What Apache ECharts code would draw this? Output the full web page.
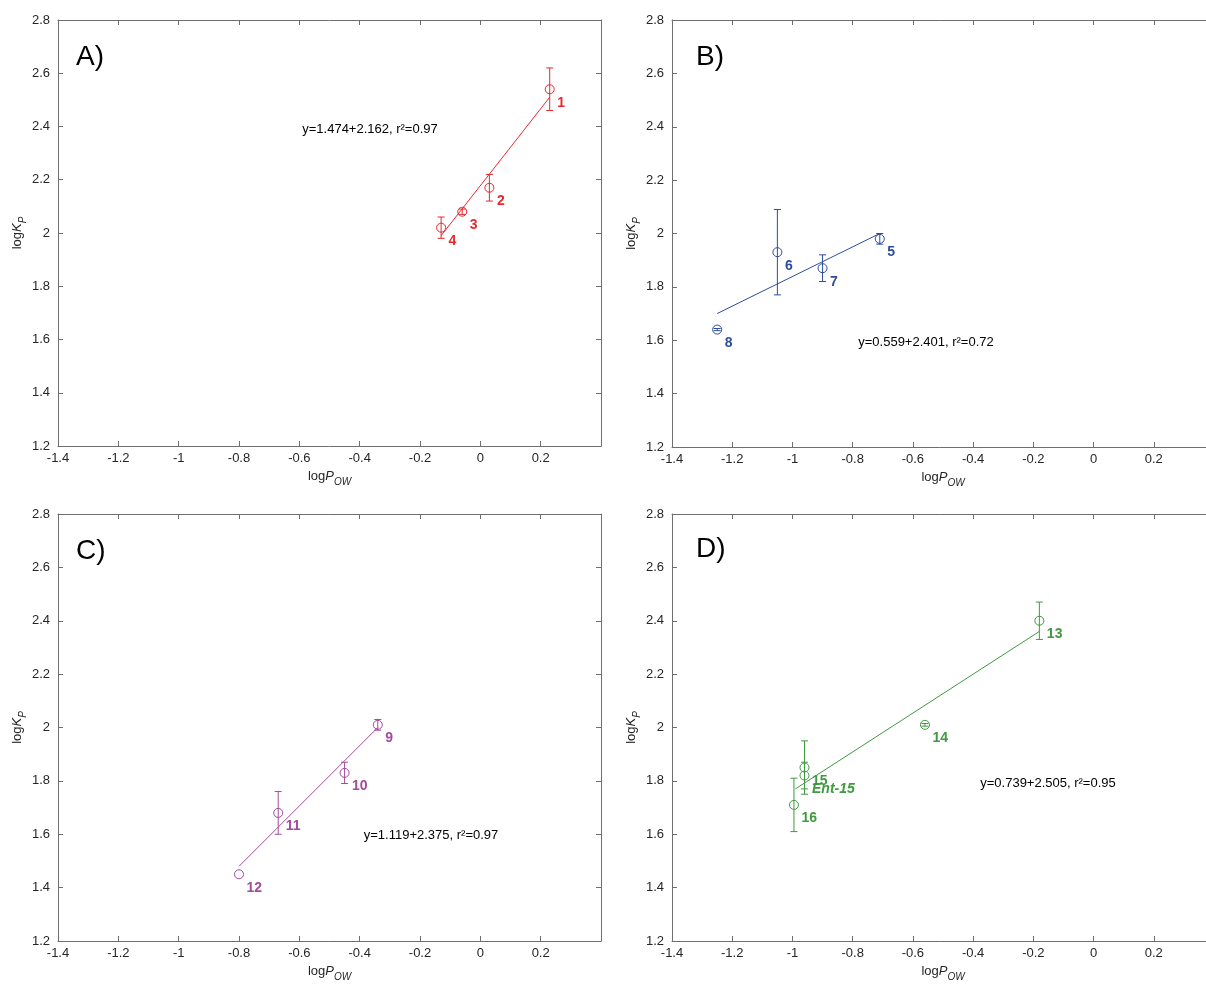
<!DOCTYPE html>
<html><head><meta charset="utf-8">
<script src="https://cdn.jsdelivr.net/npm/echarts@6/dist/echarts.min.js"></script>
<style>html,body{margin:0;padding:0;background:#fff}#c{width:1206px;height:987px}</style>
</head><body><div id="c"></div>
<script>
// ---- data ----
const panelTitles = ['A)', 'B)', 'C)', 'D)'];
const colors = ['#e62a2e', '#2c4e9c', '#a24b9c', '#3f9a3f'];

const aX = [0.23, 0.03, -0.06, -0.13];
const aY = [2.54, 2.17, 2.08, 2.02];
const aErr = [0.08, 0.05, 0.01, 0.04];
const aLab = ['1', '2', '3', '4'];
const aFit = [[-0.13, 1.99], [0.23, 2.51]];

const bX = [-0.71, -1.05, -0.90, -1.25];
const bY = [1.98, 1.93, 1.87, 1.64];
const bErr = [0.02, 0.16, 0.05, 0.004];
const bLab = ['5', '6', '7', '8'];
const bFit = [[-1.25, 1.70], [-0.71, 2.00]];

const cX = [-0.34, -0.45, -0.67, -0.80];
const cY = [2.01, 1.83, 1.68, 1.45];
const cErr = [0.02, 0.04, 0.08, 0];
const cLab = ['9', '10', '11', '12'];
const cFit = [[-0.80, 1.48], [-0.34, 2.00]];

const dX = [-0.18, -0.56, -0.96, -0.96, -0.995];
const dY = [2.40, 2.01, 1.85, 1.82, 1.71];
const dErr = [0.07, 0.005, 0.10, 0.05, 0.10];
const dLab = ['13', '14', '15', 'Ent-15', '16'];
const dFit = [[-0.99, 1.77], [-0.18, 2.36]];

const equations = [
  'y=1.474+2.162, r\u00B2=0.97',
  'y=0.559+2.401, r\u00B2=0.72',
  'y=1.119+2.375, r\u00B2=0.97',
  'y=0.739+2.505, r\u00B2=0.95'
];

const xMin = -1.4, xMax = 0.4, xStep = 0.2;
const yMin = 1.2, yMax = 2.8, yStep = 0.2;

// ---- layout / style ----
const FONT = '"Liberation Sans", Arial, Helvetica, sans-serif';
const AXC = '#6e6e6e';
const TXT = '#262626';
const grids = [
  { left: 58, top: 20, width: 543, height: 426 },
  { left: 672, top: 20, width: 542, height: 427 },
  { left: 58, top: 514, width: 543, height: 427 },
  { left: 672, top: 514, width: 542, height: 427 }
];
const titlePos = [[76, 57], [696, 57], [76, 551], [696, 549]];
const eqPos = [[370, 129], [926, 342], [431, 835], [1048, 783]];

const panels = [
  [aX, aY, aErr, aLab, aFit],
  [bX, bY, bErr, bLab, bFit],
  [cX, cY, cErr, cLab, cFit],
  [dX, dY, dErr, dLab, dFit]
];

const nameRich = {
  n: { fontSize: 13, fontFamily: FONT, color: TXT, lineHeight: 14, verticalAlign: 'top' },
  i: { fontSize: 13, fontFamily: FONT, color: TXT, fontStyle: 'italic', lineHeight: 14, verticalAlign: 'top' },
  s: { fontSize: 10, fontFamily: FONT, color: TXT, fontStyle: 'italic', lineHeight: 10, padding: [7, 0, 0, 0], verticalAlign: 'top' }
};

const xAxis = [], yAxis = [], series = [], graphic = [];
grids.forEach((g, gi) => {
  const common = {
    gridIndex: gi, type: 'value',
    axisLine: { show: true, onZero: false, lineStyle: { color: AXC, width: 1 } },
    axisTick: { show: true, inside: true, length: 5, lineStyle: { color: AXC } },
    splitLine: { show: false }
  };
  xAxis.push(Object.assign({}, common, {
    position: 'bottom', min: xMin, max: xMax, interval: xStep,
    axisLabel: { show: true, color: TXT, fontSize: 13, fontFamily: FONT, margin: 6, showMaxLabel: false, showMinLabel: true, hideOverlap: false },
    name: '{n|log}{i|P}{s|OW}', nameLocation: 'middle', nameGap: 24,
    nameTextStyle: { rich: nameRich }
  }));
  xAxis.push(Object.assign({}, common, {
    position: 'top', min: xMin, max: xMax, interval: xStep,
    axisLabel: { show: false }
  }));
  yAxis.push(Object.assign({}, common, {
    position: 'left', min: yMin, max: yMax, interval: yStep,
    axisLabel: { show: true, color: TXT, fontSize: 13, fontFamily: FONT, margin: 8, showMaxLabel: true, showMinLabel: true, hideOverlap: false },
    name: '{n|log}{i|K}{s|P}', nameLocation: 'middle', nameGap: 29, nameRotate: 90,
    nameTextStyle: { rich: nameRich }
  }));
  yAxis.push(Object.assign({}, common, {
    position: 'right', min: yMin, max: yMax, interval: yStep,
    axisLabel: { show: false }
  }));

  const [px, py, pe, pl, pf] = panels[gi];
  const col = colors[gi];
  const xi = gi * 2, yi = gi * 2;

  // regression line
  series.push({
    type: 'line', xAxisIndex: xi, yAxisIndex: yi, data: pf,
    symbol: 'none', silent: true, animation: false,
    lineStyle: { color: col, width: 1 }
  });
  // error bars
  series.push({
    type: 'custom', xAxisIndex: xi, yAxisIndex: yi, animation: false, silent: true,
    data: px.map((x, k) => [x, py[k], pe[k]]).filter(d => d[2] > 0),
    renderItem: function (params, api) {
      const x = api.value(0), y = api.value(1), e = api.value(2);
      const t = api.coord([x, y + e]), b = api.coord([x, y - e]);
      const w = 3.5;
      const st = { stroke: col, lineWidth: 1, fill: null };
      return {
        type: 'group', children: [
          { type: 'line', shape: { x1: t[0], y1: t[1], x2: b[0], y2: b[1] }, style: st },
          { type: 'line', shape: { x1: t[0] - w, y1: t[1], x2: t[0] + w, y2: t[1] }, style: st },
          { type: 'line', shape: { x1: b[0] - w, y1: b[1], x2: b[0] + w, y2: b[1] }, style: st }
        ]
      };
    }
  });
  // points with labels
  series.push({
    type: 'scatter', xAxisIndex: xi, yAxisIndex: yi, animation: false,
    symbol: 'circle', symbolSize: 9, z: 5,
    itemStyle: { color: 'rgba(255,255,255,0)', borderColor: col, borderWidth: 1, opacity: 1 },
    emphasis: { disabled: true },
    data: px.map((x, k) => ({
      value: [x, py[k]], name: pl[k],
      label: pl[k].indexOf('Ent') === 0 ? { fontStyle: 'italic' } : {}
    })),
    label: {
      show: true, formatter: '{b}', position: [12.5, 18.5], align: 'left', verticalAlign: 'middle',
      color: col, fontWeight: 'bold', fontSize: 14, fontFamily: FONT
    }
  });

  graphic.push({
    type: 'text', x: titlePos[gi][0], y: titlePos[gi][1],
    style: { text: panelTitles[gi], fontSize: 28, fontFamily: FONT, fill: '#000', verticalAlign: 'middle', align: 'left' }
  });
  graphic.push({
    type: 'text', x: eqPos[gi][0], y: eqPos[gi][1],
    style: { text: equations[gi], fontSize: 13, fontFamily: FONT, fill: '#000', verticalAlign: 'middle', align: 'center' }
  });
});

const chart = echarts.init(document.getElementById('c'), null, { renderer: 'canvas' });
chart.setOption({
  animation: false,
  backgroundColor: '#fff',
  grid: grids.map(g => Object.assign({ containLabel: false, outerBoundsMode: 'none' }, g)),
  xAxis: xAxis, yAxis: yAxis, series: series, graphic: graphic
});
</script></body></html>
